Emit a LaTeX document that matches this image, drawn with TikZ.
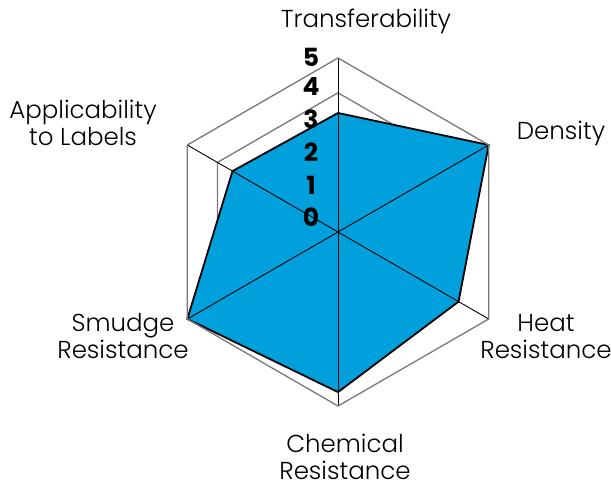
\documentclass[tikz,border=0pt]{standalone}
\usepackage{fontspec}
\IfFontExistsTF{Poppins Light}{\setmainfont{Poppins Light}}{\setmainfont{Poppins}}
\IfFontExistsTF{Poppins Bold}{\newfontfamily\numfont{Poppins Bold}}{\newfontfamily\numfont{Poppins}[FakeBold=2]}
\definecolor{chartblue}{RGB}{0,160,220}
\definecolor{ringgray}{RGB}{120,120,120}
\tikzset{
	ring/.style = {draw=ringgray, line width=1.3pt, line join=miter},
	spoke/.style = {draw=black, line width=0.9pt},
	datafill/.style = {fill=chartblue, draw=black, line width=1.8pt, line join=miter},
	axislabel/.style = {align=center, inner sep=0pt, font=\fontsize{24.5}{27}\selectfont},
	levelnum/.style = {font=\numfont\fontsize{25}{25}\selectfont}
	}

\begin{document}
\begin{tikzpicture}[x=1pt, y=1pt]
\useasboundingbox (-338,-253) rectangle (273,232);
\def\rad{34.8}

% RINGS
\foreach \k in {1,...,4}
 \draw [ring] (90:\k*\rad) -- (30:\k*\rad) -- (-30:\k*\rad) -- (-90:\k*\rad) -- (-150:\k*\rad) -- (150:\k*\rad) -- cycle;

% DATA
\coordinate (trans) at (90:3.42*\rad);
\coordinate (dens) at (30:5*\rad);
\coordinate (heat) at (-30:4*\rad);
\coordinate (chem) at (-90:4.6*\rad);
\coordinate (smud) at (-150:5*\rad);
\coordinate (appl) at (150:3.5*\rad);
\draw [datafill] (trans) -- (dens) -- (heat) -- (chem) -- (smud) -- (appl) -- cycle;

% SPOKES
\foreach \a in {90,30,-30,-90,-150,150}
 \draw [spoke] (0,0) -- (\a:5*\rad);
\draw [ring] (90:5*\rad) -- (30:5*\rad) -- (-30:5*\rad) -- (-90:5*\rad) -- (-150:5*\rad) -- (150:5*\rad) -- cycle;

% NUMBERS
\foreach \n/\yy in {0/15, 1/47, 2/80, 3/113, 4/145, 5/175}
 \node (num\n) [levelnum] at (-27,\yy) {\n};

% LABELS
\node (ltrans) [axislabel] at (28,211) {Transferability};
\node (ldens) [axislabel] at (223,99) {Density};
\node (lheat) [axislabel] at (208,-105) {Heat\\Resistance};
\node (lchem) [axislabel] at (7,-225) {Chemical\\Resistance};
\node (lsmud) [axislabel] at (-215,-104) {Smudge\\Resistance};
\node (lappl) [axislabel] at (-255,109) {Applicability\\to Labels};

\end{tikzpicture}
\end{document}
